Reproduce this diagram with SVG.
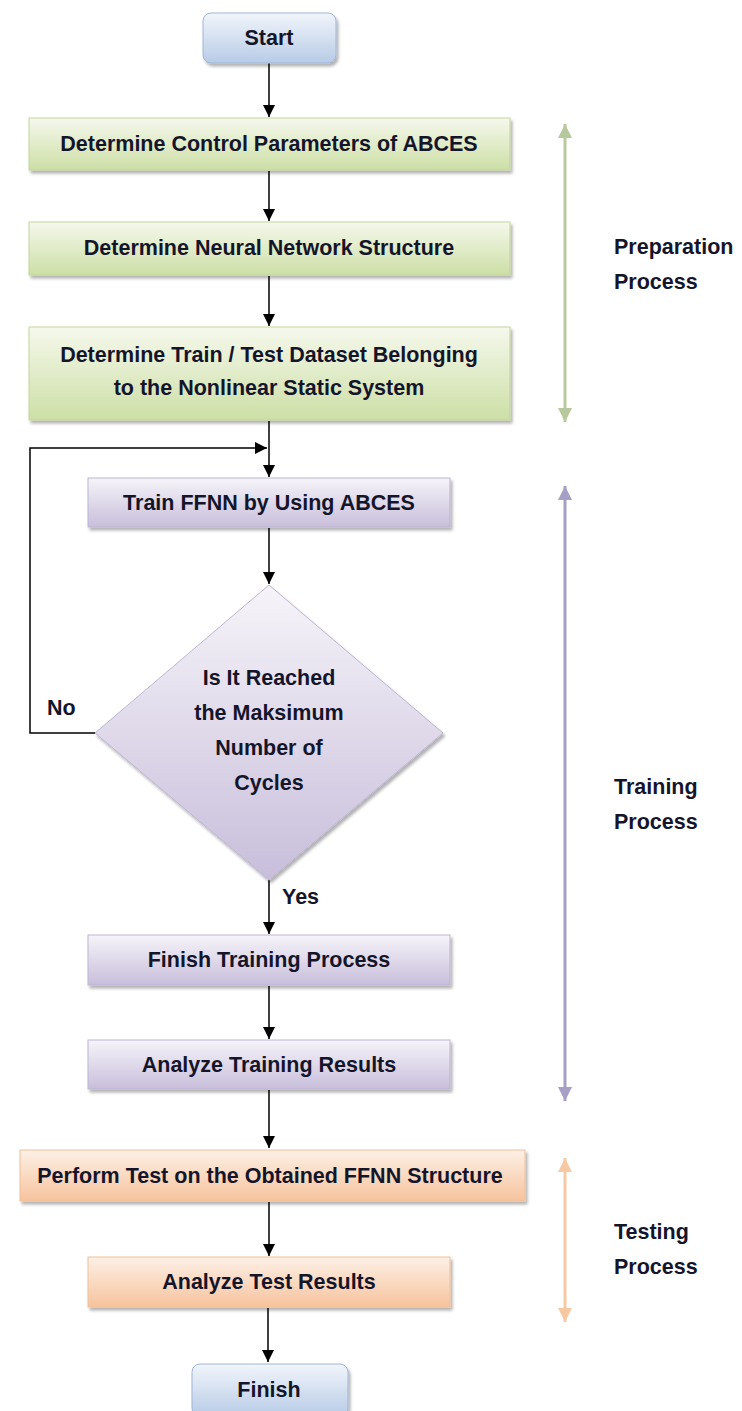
<svg xmlns="http://www.w3.org/2000/svg" width="742" height="1411" viewBox="0 0 742 1411">
<defs>
<linearGradient id="gGreen" x1="0" y1="0" x2="0" y2="1"><stop offset="0" stop-color="#f5f8ec"/><stop offset="1" stop-color="#cddfa6"/></linearGradient>
<linearGradient id="gPurple" x1="0" y1="0" x2="0" y2="1"><stop offset="0" stop-color="#f6f4f9"/><stop offset="1" stop-color="#c8bedb"/></linearGradient>
<linearGradient id="gOrange" x1="0" y1="0" x2="0" y2="1"><stop offset="0" stop-color="#fdf0e6"/><stop offset="1" stop-color="#f6c39d"/></linearGradient>
<linearGradient id="gBlue" x1="0" y1="0" x2="0" y2="1"><stop offset="0" stop-color="#f1f5fb"/><stop offset="1" stop-color="#b8cbe6"/></linearGradient>
<filter id="sh" x="-10%" y="-10%" width="120%" height="130%"><feDropShadow dx="2" dy="3" stdDeviation="1.5" flood-color="#000" flood-opacity="0.3"/></filter>
<marker id="ah" markerWidth="12" markerHeight="12" refX="10" refY="5" orient="auto" markerUnits="userSpaceOnUse" viewBox="0 0 10 10"><path d="M0,0 L10,5 L0,10 z" fill="#000"/></marker>
<marker id="aG" markerWidth="14" markerHeight="14" refX="10" refY="5" orient="auto-start-reverse" markerUnits="userSpaceOnUse" viewBox="0 0 10 10"><path d="M0,0 L10,5 L0,10 z" fill="#b7c99c"/></marker>
<marker id="aP" markerWidth="14" markerHeight="14" refX="10" refY="5" orient="auto-start-reverse" markerUnits="userSpaceOnUse" viewBox="0 0 10 10"><path d="M0,0 L10,5 L0,10 z" fill="#a79fc6"/></marker>
<marker id="aO" markerWidth="14" markerHeight="14" refX="10" refY="5" orient="auto-start-reverse" markerUnits="userSpaceOnUse" viewBox="0 0 10 10"><path d="M0,0 L10,5 L0,10 z" fill="#f6c9a4"/></marker>
</defs>
<style>
text{font-family:"Liberation Sans",Arial,sans-serif;font-weight:bold;font-size:21.5px;fill:#15152a}
.t{text-anchor:middle}
.lbl{font-size:21.5px}
.green{fill:url(#gGreen);stroke:#c3d59b;stroke-width:1;filter:url(#sh)}
.purple{fill:url(#gPurple);stroke:#bdb5d2;stroke-width:1;filter:url(#sh)}
.orange{fill:url(#gOrange);stroke:#f0c09a;stroke-width:1;filter:url(#sh)}
.blue{fill:url(#gBlue);stroke:#9fb6d6;stroke-width:1;filter:url(#sh)}
.conn{fill:none;stroke:#000;stroke-width:1.5}
.side{fill:none;stroke-width:3}
</style>
<rect width="742" height="1411" fill="#fff"/>
<g id="connectors">
<path class="conn" d="M269,63 V117" marker-end="url(#ah)"/>
<path class="conn" d="M269,171 V221" marker-end="url(#ah)"/>
<path class="conn" d="M269,276 V326" marker-end="url(#ah)"/>
<path class="conn" d="M269,421 V477" marker-end="url(#ah)"/>
<path class="conn" d="M95,733 H30 V448 H267" marker-end="url(#ah)"/>
<path class="conn" d="M269,528 V584" marker-end="url(#ah)"/>
<path class="conn" d="M269,880 V934" marker-end="url(#ah)"/>
<path class="conn" d="M269,986 V1039" marker-end="url(#ah)"/>
<path class="conn" d="M269,1090 V1148" marker-end="url(#ah)"/>
<path class="conn" d="M269,1202 V1256" marker-end="url(#ah)"/>
<path class="conn" d="M268,1308 V1362" marker-end="url(#ah)"/>
<text x="47" y="715">No</text>
<text x="282" y="904">Yes</text>
</g>
<g id="start"><rect class="blue" x="203" y="13" width="133" height="50" rx="8"/><text class="t" x="269" y="45">Start</text></g>
<g id="ctrl"><rect class="green" x="29" y="118" width="481" height="52"/><text class="t" x="269" y="151">Determine Control Parameters of ABCES</text></g>
<g id="nn"><rect class="green" x="29" y="222" width="481" height="53"/><text class="t" x="269" y="255">Determine Neural Network Structure</text></g>
<g id="dataset"><rect class="green" x="29" y="327" width="481" height="93"/><text class="t" x="269" y="362">Determine Train / Test Dataset Belonging</text><text class="t" x="269" y="395">to the Nonlinear Static System</text></g>
<g id="train"><rect class="purple" x="88" y="478" width="362" height="49"/><text class="t" x="269" y="510">Train FFNN by Using ABCES</text></g>
<g id="decision"><path class="purple" d="M269,585 L443,733 L269,880 L95,733 Z"/><text class="t" x="269" y="685">Is It Reached</text><text class="t" x="269" y="720">the Maksimum</text><text class="t" x="269" y="755">Number of</text><text class="t" x="269" y="790">Cycles</text></g>
<g id="finishTraining"><rect class="purple" x="88" y="935" width="362" height="50"/><text class="t" x="269" y="967">Finish Training Process</text></g>
<g id="analyzeTraining"><rect class="purple" x="88" y="1040" width="362" height="49"/><text class="t" x="269" y="1072">Analyze Training Results</text></g>
<g id="performTest"><rect class="orange" x="20" y="1150" width="505" height="51"/><text class="t" x="270" y="1183">Perform Test on the Obtained FFNN Structure</text></g>
<g id="analyzeTest"><rect class="orange" x="88" y="1257" width="362" height="50"/><text class="t" x="269" y="1289">Analyze Test Results</text></g>
<g id="finish"><rect class="blue" x="192" y="1364" width="156" height="52" rx="8"/><text class="t" x="269" y="1397">Finish</text></g>
<g id="phases">
<path class="side" stroke="#b7c99c" d="M565,124 V422" marker-start="url(#aG)" marker-end="url(#aG)"/>
<path class="side" stroke="#a79fc6" d="M565,486 V1101" marker-start="url(#aP)" marker-end="url(#aP)"/>
<path class="side" stroke="#f6c9a4" d="M565,1158 V1322" marker-start="url(#aO)" marker-end="url(#aO)"/>
<text class="lbl" x="614" y="254">Preparation</text><text class="lbl" x="614" y="289">Process</text>
<text class="lbl" x="614" y="794">Training</text><text class="lbl" x="614" y="829">Process</text>
<text class="lbl" x="614" y="1239">Testing</text><text class="lbl" x="614" y="1274">Process</text>
</g>
</svg>
